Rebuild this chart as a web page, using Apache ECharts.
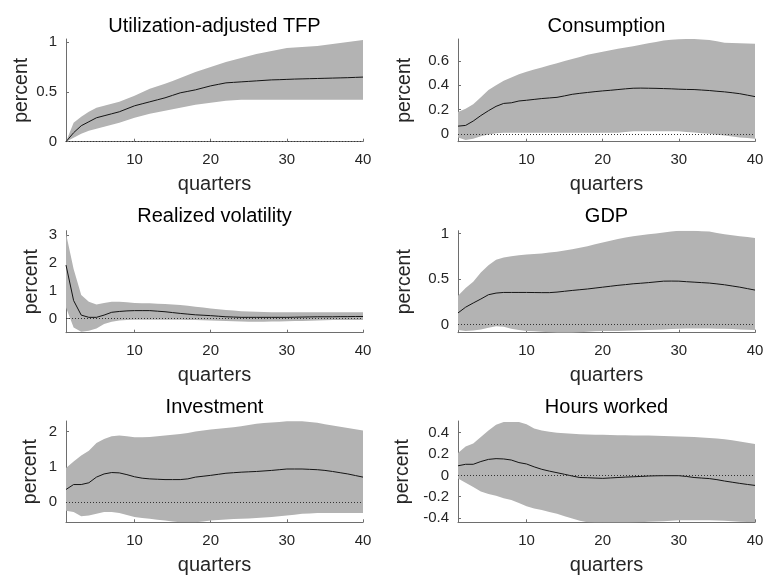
<!DOCTYPE html>
<html><head><meta charset="utf-8">
<script src="https://cdn.jsdelivr.net/npm/echarts@6/dist/echarts.min.js"></script>
<style>html,body{margin:0;padding:0;background:#fff}#c{width:764px;height:577px}</style>
</head><body><div id="c"></div>
<script>
// ---------- data ----------
const quarters = [1,2,3,4,5,6,7,8,9,10,11,12,13,14,15,16,17,18,19,20,21,22,23,24,25,26,27,28,29,30,31,32,33,34,35,36,37,38,39,40];
const xTicks = [10,20,30,40];

const titles = ['Utilization-adjusted TFP','Consumption','Realized volatility','GDP','Investment','Hours worked'];

const tfpMean = [0,0.09,0.16,0.20,0.24,0.26,0.28,0.30,0.33,0.36,0.38,0.40,0.42,0.44,0.465,0.49,0.505,0.52,0.54,0.56,0.575,0.59,0.595,0.60,0.605,0.61,0.615,0.62,0.622,0.625,0.628,0.63,0.632,0.634,0.636,0.638,0.64,0.642,0.645,0.648];
const tfpUp   = [0,0.19,0.25,0.30,0.34,0.36,0.38,0.40,0.43,0.46,0.495,0.53,0.555,0.58,0.61,0.64,0.67,0.70,0.725,0.75,0.775,0.80,0.82,0.84,0.86,0.88,0.895,0.91,0.925,0.94,0.945,0.95,0.955,0.96,0.97,0.98,0.99,1.0,1.01,1.02];
const tfpLo   = [0,0.04,0.08,0.11,0.13,0.15,0.17,0.19,0.215,0.24,0.26,0.28,0.295,0.31,0.325,0.34,0.355,0.37,0.38,0.39,0.40,0.41,0.415,0.42,0.42,0.42,0.42,0.42,0.42,0.42,0.42,0.42,0.42,0.42,0.42,0.42,0.42,0.42,0.42,0.42];
const tfpTicks = [0,0.5,1];

const conMean = [0.063,0.069,0.105,0.15,0.19,0.226,0.25,0.255,0.27,0.276,0.283,0.29,0.295,0.30,0.312,0.325,0.333,0.34,0.347,0.353,0.358,0.364,0.37,0.375,0.376,0.375,0.374,0.372,0.37,0.367,0.365,0.364,0.36,0.356,0.35,0.345,0.338,0.33,0.318,0.306];
const conUp   = [0.18,0.207,0.243,0.30,0.36,0.40,0.436,0.463,0.49,0.51,0.53,0.546,0.563,0.58,0.598,0.615,0.632,0.65,0.663,0.676,0.688,0.70,0.71,0.72,0.733,0.745,0.756,0.767,0.773,0.778,0.78,0.78,0.776,0.772,0.762,0.75,0.748,0.745,0.742,0.74];
const conLo   = [-0.03,-0.05,-0.04,-0.02,-0.005,0.005,0.008,0.008,0.008,0.008,0.008,0.008,0.008,0.008,0.008,0.008,0.008,0.008,0.008,0.008,0.008,0.008,0.015,0.02,0.02,0.02,0.02,0.02,0.02,0.02,0.015,0.01,0.005,0,-0.008,-0.015,-0.022,-0.03,-0.035,-0.04];
const conTicks = [0,0.2,0.4,0.6];

const rvMean = [1.92,0.65,0.13,0.05,0.05,0.13,0.23,0.26,0.28,0.29,0.29,0.29,0.27,0.25,0.22,0.19,0.165,0.14,0.125,0.11,0.09,0.07,0.06,0.05,0.05,0.05,0.05,0.05,0.05,0.05,0.055,0.06,0.065,0.07,0.07,0.07,0.075,0.075,0.08,0.08];
const rvUp   = [3.05,1.78,0.85,0.61,0.51,0.56,0.61,0.61,0.59,0.56,0.555,0.55,0.54,0.53,0.51,0.49,0.46,0.43,0.40,0.37,0.34,0.31,0.29,0.27,0.26,0.25,0.24,0.23,0.23,0.23,0.23,0.23,0.23,0.23,0.23,0.23,0.23,0.23,0.23,0.23];
const rvLo   = [0.4,-0.31,-0.47,-0.43,-0.35,-0.19,-0.11,-0.06,-0.05,-0.04,-0.04,-0.04,-0.04,-0.04,-0.04,-0.04,-0.045,-0.05,-0.055,-0.06,-0.07,-0.08,-0.09,-0.1,-0.105,-0.11,-0.105,-0.1,-0.095,-0.09,-0.085,-0.08,-0.07,-0.06,-0.055,-0.05,-0.05,-0.05,-0.05,-0.05];
const rvTicks = [0,1,2,3];

const gdpMean = [0.127,0.19,0.236,0.28,0.327,0.345,0.352,0.352,0.352,0.352,0.351,0.35,0.35,0.356,0.365,0.374,0.382,0.39,0.40,0.41,0.42,0.43,0.438,0.447,0.453,0.46,0.468,0.476,0.477,0.476,0.47,0.465,0.46,0.455,0.446,0.436,0.423,0.41,0.394,0.378];
const gdpUp   = [0.316,0.40,0.47,0.57,0.65,0.71,0.735,0.75,0.76,0.77,0.775,0.78,0.79,0.80,0.812,0.825,0.842,0.86,0.88,0.90,0.92,0.94,0.955,0.97,0.98,0.99,1.0,1.01,1.02,1.03,1.03,1.03,1.025,1.02,1.005,0.99,0.98,0.97,0.96,0.95];
const gdpLo   = [-0.06,-0.07,-0.065,-0.055,-0.036,-0.018,-0.025,-0.047,-0.06,-0.07,-0.075,-0.08,-0.085,-0.09,-0.09,-0.09,-0.085,-0.08,-0.075,-0.07,-0.07,-0.07,-0.068,-0.065,-0.062,-0.06,-0.058,-0.055,-0.05,-0.047,-0.045,-0.045,-0.045,-0.045,-0.046,-0.047,-0.05,-0.055,-0.058,-0.06];
const gdpTicks = [0,0.5,1];

const invMean = [0.36,0.5,0.5,0.55,0.71,0.8,0.84,0.83,0.78,0.72,0.68,0.66,0.65,0.64,0.64,0.64,0.66,0.71,0.735,0.76,0.79,0.82,0.835,0.85,0.86,0.87,0.885,0.9,0.92,0.94,0.94,0.94,0.93,0.92,0.9,0.87,0.835,0.8,0.755,0.71];
const invUp   = [0.97,1.15,1.32,1.46,1.68,1.79,1.87,1.89,1.87,1.84,1.84,1.85,1.87,1.89,1.91,1.93,1.96,2.0,2.03,2.06,2.08,2.1,2.125,2.15,2.185,2.22,2.24,2.26,2.275,2.29,2.29,2.29,2.27,2.25,2.21,2.17,2.135,2.1,2.065,2.03];
const invLo   = [-0.24,-0.28,-0.4,-0.38,-0.33,-0.28,-0.28,-0.31,-0.36,-0.42,-0.445,-0.47,-0.495,-0.52,-0.545,-0.57,-0.57,-0.57,-0.545,-0.52,-0.505,-0.49,-0.48,-0.47,-0.46,-0.45,-0.435,-0.42,-0.4,-0.38,-0.355,-0.33,-0.32,-0.31,-0.31,-0.31,-0.31,-0.31,-0.31,-0.31];
const invTicks = [0,1,2];

const hrsMean = [0.09,0.104,0.104,0.13,0.15,0.157,0.154,0.144,0.12,0.107,0.08,0.057,0.04,0.025,0.01,-0.006,-0.02,-0.022,-0.025,-0.028,-0.024,-0.02,-0.016,-0.013,-0.01,-0.006,-0.004,-0.003,-0.003,-0.003,-0.01,-0.02,-0.025,-0.03,-0.04,-0.053,-0.064,-0.075,-0.085,-0.094];
const hrsUp   = [0.21,0.27,0.30,0.36,0.42,0.474,0.50,0.50,0.50,0.48,0.44,0.42,0.41,0.40,0.395,0.39,0.385,0.383,0.38,0.38,0.378,0.377,0.376,0.375,0.375,0.375,0.372,0.37,0.367,0.365,0.362,0.36,0.355,0.35,0.345,0.34,0.33,0.317,0.305,0.295];
const hrsLo   = [-0.03,-0.07,-0.11,-0.15,-0.175,-0.19,-0.215,-0.23,-0.26,-0.29,-0.31,-0.325,-0.343,-0.36,-0.383,-0.405,-0.425,-0.44,-0.447,-0.45,-0.45,-0.45,-0.447,-0.445,-0.44,-0.435,-0.432,-0.43,-0.425,-0.42,-0.42,-0.42,-0.42,-0.42,-0.422,-0.425,-0.43,-0.435,-0.438,-0.44];
const hrsTicks = [-0.4,-0.2,0,0.2,0.4];

// ---------- layout & style ----------
const panels = [
  {title: titles[0], mean: tfpMean, up: tfpUp, lo: tfpLo, ticks: tfpTicks, min: 0,      max: 1.03},
  {title: titles[1], mean: conMean, up: conUp, lo: conLo, ticks: conTicks, min: -0.065, max: 0.78},
  {title: titles[2], mean: rvMean,  up: rvUp,  lo: rvLo,  ticks: rvTicks,  min: -0.5,   max: 3.15},
  {title: titles[3], mean: gdpMean, up: gdpUp, lo: gdpLo, ticks: gdpTicks, min: -0.09,  max: 1.03},
  {title: titles[4], mean: invMean, up: invUp, lo: invLo, ticks: invTicks, min: -0.57,  max: 2.3},
  {title: titles[5], mean: hrsMean, up: hrsUp, lo: hrsLo, ticks: hrsTicks, min: -0.44,  max: 0.51}
];
const gridPos = [[66,39,102.7],[458,39,102.7],[66,230.7,102],[458,230.7,102],[66,421,101.3],[458,421,101.3]];
const nameGaps = [34, 43, 24, 43, 25, 45];
const titleY = [26.4, 26.4, 216.4, 216.4, 407.4, 407.4];
const PW = 297;
const FONT = '"Liberation Sans", Arial, Helvetica, sans-serif';
const axisColor = '#6e6e6e';
const textColor = '#262626';
const bandColor = '#b3b3b3';
const isTick = (idx, val) => xTicks.indexOf(Number(val)) >= 0;

const option = {
  animation: false,
  backgroundColor: '#fff',
  grid: panels.map((p, i) => ({left: gridPos[i][0], top: gridPos[i][1], width: PW, height: gridPos[i][2], containLabel: false, outerBoundsMode: 'none'})),
  xAxis: panels.map((p, i) => ({
    type: 'category', gridIndex: i, data: quarters, boundaryGap: false,
    axisLine: {show: true, onZero: false, lineStyle: {color: axisColor, width: 1}},
    axisTick: {show: true, inside: true, length: 3, interval: isTick, lineStyle: {color: axisColor}},
    axisLabel: {interval: isTick, margin: 11, color: textColor, fontSize: 15, fontFamily: FONT},
    splitLine: {show: false},
    name: 'quarters', nameLocation: 'middle', nameGap: 33,
    nameTextStyle: {fontSize: 20, color: textColor, fontFamily: FONT}
  })),
  yAxis: panels.map((p, i) => ({
    type: 'value', gridIndex: i, min: p.min, max: p.max,
    axisLine: {show: true, onZero: false, lineStyle: {color: axisColor, width: 1}},
    axisTick: {show: true, inside: true, length: 3, customValues: p.ticks, lineStyle: {color: axisColor}},
    axisLabel: {customValues: p.ticks, margin: 9, color: textColor, fontSize: 15, fontFamily: FONT},
    splitLine: {show: false},
    name: 'percent', nameLocation: 'middle', nameGap: nameGaps[i],
    nameTextStyle: {fontSize: 19.5, color: textColor, fontFamily: FONT}
  })),
  series: panels.flatMap((p, i) => [
    {
      type: 'line', xAxisIndex: i, yAxisIndex: i, stack: 'band' + i, stackStrategy: 'all',
      data: p.lo.slice(),
      symbol: 'none', lineStyle: {width: 0, opacity: 0}, silent: true, z: 1
    },
    {
      type: 'line', xAxisIndex: i, yAxisIndex: i, stack: 'band' + i, stackStrategy: 'all',
      data: p.up.map((u, k) => u - p.lo[k]),
      symbol: 'none', lineStyle: {width: 0, opacity: 0},
      areaStyle: {color: bandColor, opacity: 1}, silent: true, z: 1
    },
    {
      type: 'line', xAxisIndex: i, yAxisIndex: i,
      data: p.mean.slice(),
      symbol: 'none', lineStyle: {color: '#141414', width: 1}, silent: true, z: 3,
      markLine: {
        silent: true, symbol: ['none', 'none'], label: {show: false},
        lineStyle: {color: '#333', width: 1, type: [1, 2]},
        data: [{yAxis: 0}]
      }
    }
  ]),
  graphic: panels.map((p, i) => ({
    type: 'text', x: gridPos[i][0] + PW / 2, y: titleY[i],
    style: {text: p.title, align: 'center', verticalAlign: 'middle', font: '20px ' + FONT, fill: '#000'}
  }))
};

const chart = echarts.init(document.getElementById('c'), null, {renderer: 'canvas'});
chart.setOption(option);
</script>
</body></html>
